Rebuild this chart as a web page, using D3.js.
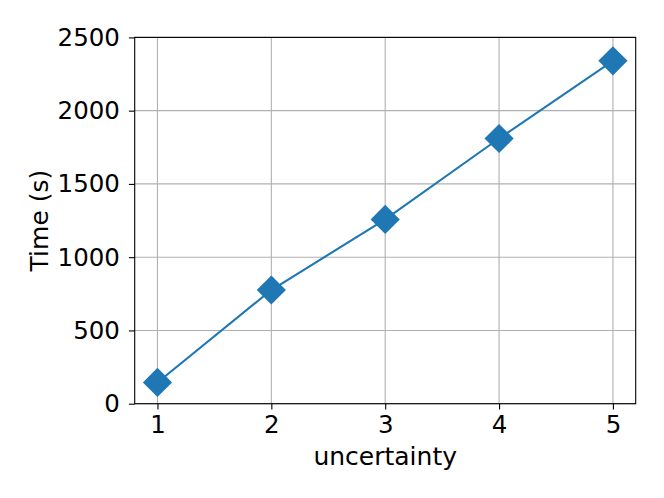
<!DOCTYPE html>
<html>
<head>
<meta charset="utf-8">
<script src="https://cdn.jsdelivr.net/npm/d3@7"></script>
<style>
html,body{margin:0;padding:0;background:#fff;}
svg{display:block;}
text{font-family:"DejaVu Sans",sans-serif;fill:#000;}
</style>
</head>
<body>
<script>
const xValues = [1, 2, 3, 4, 5];
const yValues = [145, 776, 1258, 1810, 2340];
const xTicks = [1, 2, 3, 4, 5];
const yTicks = [0, 500, 1000, 1500, 2000, 2500];
const xLabel = "uncertainty";
const yLabel = "Time (s)";

const W = 664, H = 498;
const m = {left: 134.7, right: 664 - 635.7, top: 37.4, bottom: 498 - 403.7};
const FS = "25px";
const TFS = "24.5px";

const svg = d3.select("body").append("svg").attr("width", W).attr("height", H);

const x = d3.scaleLinear().domain([0.8, 5.2]).range([m.left, W - m.right]);
const y = d3.scaleLinear().domain([0, 2500]).range([H - m.bottom, m.top]);

// grid
const g = svg.append("g");
g.selectAll("line.gx").data(xTicks).join("line")
  .attr("x1", d => x(d)).attr("x2", d => x(d))
  .attr("y1", y(2500)).attr("y2", y(0))
  .attr("stroke", "#b0b0b0").attr("stroke-width", 1.1);
g.selectAll("line.gy").data(yTicks).join("line")
  .attr("y1", d => y(d)).attr("y2", d => y(d))
  .attr("x1", x(0.8)).attr("x2", x(5.2))
  .attr("stroke", "#b0b0b0").attr("stroke-width", 1.1);

// line
svg.append("path")
  .datum(xValues.map((d, i) => [d, yValues[i]]))
  .attr("fill", "none").attr("stroke", "#1f77b4").attr("stroke-width", 2.1)
  .attr("d", d3.line().x(d => x(d[0])).y(d => y(d[1])));

// markers
const s = 14.6;
svg.selectAll("path.mk").data(xValues.map((d, i) => [d, yValues[i]])).join("path")
  .attr("d", `M0,${-s}L${s},0L0,${s}L${-s},0Z`)
  .attr("transform", d => `translate(${x(d[0])},${y(d[1])})`)
  .attr("fill", "#1f77b4");

// axes
const xAxis = d3.axisBottom(x).tickValues(xTicks).tickFormat(d3.format("d")).tickSize(5.8).tickPadding(6.4);
const yAxis = d3.axisLeft(y).tickValues(yTicks).tickFormat(d3.format("d")).tickSize(5.8).tickPadding(9);

const gx = svg.append("g").attr("transform", `translate(0,${H - m.bottom})`).call(xAxis);
const gy = svg.append("g").attr("transform", `translate(${m.left},0)`).call(yAxis);
[gx, gy].forEach(a => {
  a.select(".domain").remove();
  a.selectAll(".tick line").attr("stroke", "#000").attr("stroke-width", 1.1);
  a.selectAll(".tick text").style("font-family", '"DejaVu Sans",sans-serif').style("font-size", TFS).attr("fill", "#000");
});

// spines
svg.append("rect")
  .attr("x", x(0.8)).attr("y", y(2500))
  .attr("width", x(5.2) - x(0.8)).attr("height", y(0) - y(2500))
  .attr("fill", "none").attr("stroke", "#000").attr("stroke-width", 1.1);

// labels
svg.append("text").attr("x", (x(0.8) + x(5.2)) / 2).attr("y", 465)
  .attr("text-anchor", "middle").style("font-size", FS).text(xLabel);
svg.append("text").attr("transform", `translate(48.3,${(y(0) + y(2500)) / 2}) rotate(-90)`)
  .attr("text-anchor", "middle").style("font-size", FS).text(yLabel);
</script>
</body>
</html>
